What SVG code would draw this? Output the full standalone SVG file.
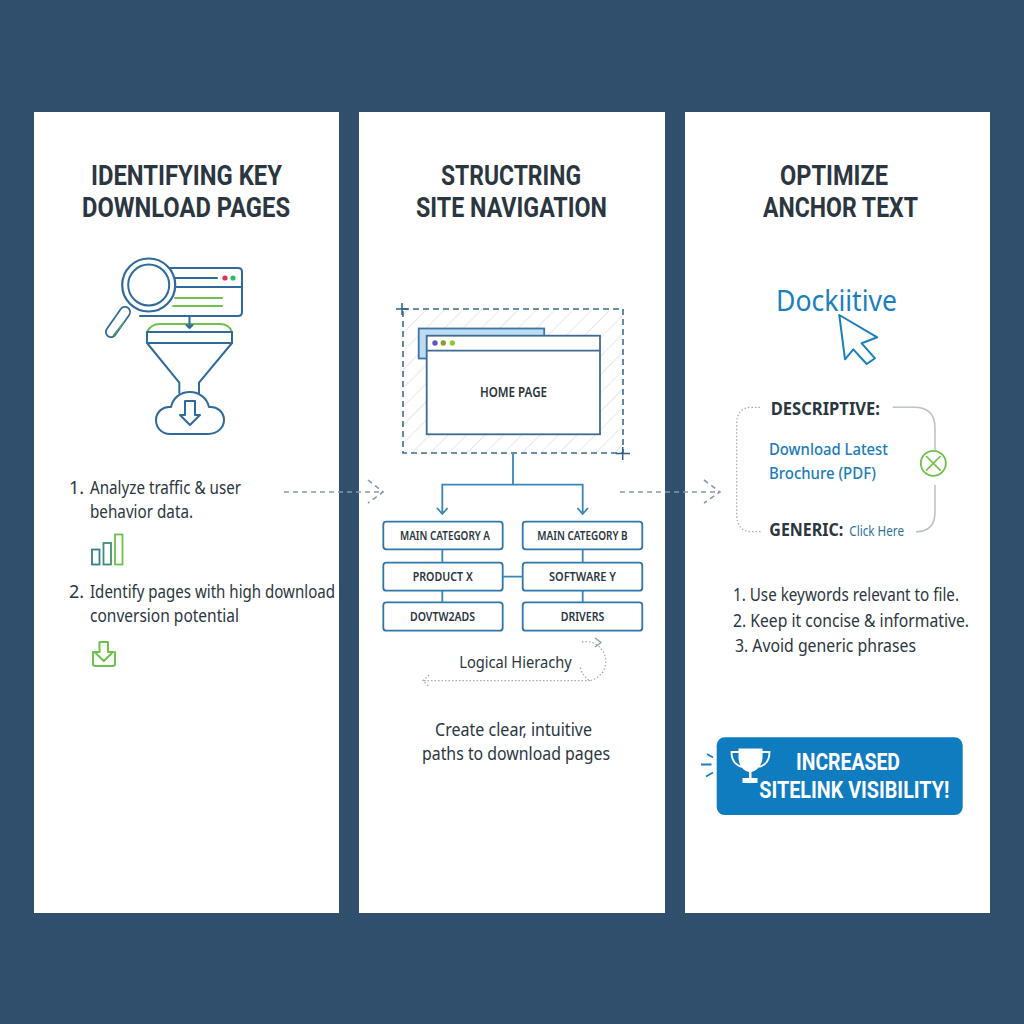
<svg xmlns="http://www.w3.org/2000/svg" width="1024" height="1024" viewBox="0 0 1024 1024">
<style>
text{font-family:"Noto Sans","Open Sans","Liberation Sans",sans-serif;fill:#2b3640}
.h{font-family:Roboto,"Liberation Sans",sans-serif;font-size:27.300px;font-weight:700}
.b{font-size:18px}
.n{font-size:13px;font-weight:600}
.d{font-size:18px;font-weight:700}
.l{fill:#1a7cb8;font-size:17px;font-weight:500}
.w{font-family:Roboto,"Liberation Sans",sans-serif;font-size:23px;font-weight:700;fill:#fff}
.ic{fill:none;stroke:#2f6a9c;stroke-width:2;stroke-linejoin:round;stroke-linecap:round}
.gr{fill:none;stroke:#6cc24a;stroke-width:2;stroke-linecap:round;stroke-linejoin:round}
.box{fill:#fff;stroke:#2f77a8;stroke-width:1.8}
.con{fill:none;stroke:#3a86b5;stroke-width:1.8}
.dash{fill:none;stroke:#8a99a8;stroke-width:1.6;stroke-dasharray:5 4}
.dot{fill:none;stroke:#a3adb8;stroke-width:1.3;stroke-dasharray:1.5 2}
</style>
<defs>
<pattern id="hatch" width="13" height="13" patternUnits="userSpaceOnUse" patternTransform="rotate(45)">
<rect width="13" height="13" fill="#fff"/><line x1="0" y1="0" x2="0" y2="13" stroke="#d9dde0" stroke-width="1.300"/>
</pattern>
</defs>
<rect width="1024" height="1024" fill="#2f4f6d"/>

<g id="panel-1">
<rect x="34" y="112" width="305" height="801" fill="#fff"/>
<text class="h" x="91" y="184.500" textLength="191" lengthAdjust="spacingAndGlyphs">IDENTIFYING KEY</text>
<text class="h" x="82" y="216.500" textLength="208" lengthAdjust="spacingAndGlyphs">DOWNLOAD PAGES</text>
<g id="icon-search">
<line x1="125" y1="312" x2="111" y2="332" stroke="#2f6a9c" stroke-width="12" stroke-linecap="round"/>
<line x1="125" y1="312" x2="111" y2="332" stroke="#fff" stroke-width="8.500" stroke-linecap="round"/>
<path d="M124 322L113 336" stroke="#5aa06a" stroke-width="1.600" fill="none"/>
<path class="ic" d="M170 268H238Q242 268 242 272V312Q242 316 238 316H140" fill="#fff"/>
<path class="ic" d="M170 287H242M175 278H217"/>
<circle cx="225" cy="278" r="2.600" fill="#e0305a"/><circle cx="233" cy="278" r="2.600" fill="#22c068"/>
<path class="gr" d="M175 298H222M173 306H222"/>
<circle cx="148.700" cy="285" r="26.500" fill="#fff" stroke="#2f6a9c" stroke-width="2.200"/>
<circle cx="148.700" cy="285" r="20.500" fill="#fff" stroke="#2f6a9c" stroke-width="2"/>
</g>
<g id="icon-funnel">
<path class="gr" d="M147 332Q151 324 160 324H220Q229 324 232 332"/>
<path class="ic" d="M189.500 316V328M186.500 325L189.500 328L192.500 325"/>
<rect class="ic" x="147" y="332" width="85" height="11"/>
<path class="ic" d="M147 343L179.300 382.700V393M232 343L199 382.700V393"/>
<path class="ic" d="M170 434H208C218 434 224 427 224 420C224 412 217 406 209 407C207 398 199 392 190 392C180 392 173 398 171 407C163 406 156 412 156 420C156 427 161 434 170 434Z"/>
<path class="ic" d="M185 401H195V415H200L190 425L180 415H185Z"/>
</g>
<text class="b" x="69" y="494">1.</text>
<text class="b" x="90" y="494" textLength="151" lengthAdjust="spacingAndGlyphs">Analyze traffic &amp; user</text>
<text class="b" x="90" y="518" textLength="103" lengthAdjust="spacingAndGlyphs">behavior data.</text>
<g id="icon-bars" fill="none" stroke-width="1.8">
<rect x="92" y="549.500" width="7.500" height="15" stroke="#2f7f95"/>
<rect x="103.500" y="543" width="7.500" height="21.500" stroke="#3d8f70"/>
<rect x="115" y="534.500" width="7.500" height="30" stroke="#6cc24a"/>
</g>
<text class="b" x="69" y="598">2.</text>
<text class="b" x="90" y="598" textLength="245" lengthAdjust="spacingAndGlyphs">Identify pages with high download</text>
<text class="b" x="90" y="622" textLength="149" lengthAdjust="spacingAndGlyphs">conversion potential</text>
<path id="icon-download" class="gr" d="M93 652V664Q93 666 95 666H113Q115 666 115 664V652M99.500 642H108V652H113L103.800 661L94.500 652H99.500Z"/>
</g>

<g id="panel-2">
<rect x="359" y="112" width="306" height="801" fill="#fff"/>
<text class="h" x="441" y="184.500" textLength="140" lengthAdjust="spacingAndGlyphs">STRUCTRING</text>
<text class="h" x="416" y="216.500" textLength="191" lengthAdjust="spacingAndGlyphs">SITE NAVIGATION</text>
<g id="home-page">
<rect x="403" y="309" width="220" height="144" fill="url(#hatch)" stroke="#3f6b90" stroke-width="1.600" stroke-dasharray="6 4"/>
<path d="M396 309H408M402 303V315M616 453.500H630M622.700 447V460" stroke="#2f5f88" stroke-width="1.500" fill="none"/>
<rect x="418.700" y="328.500" width="125.500" height="30" fill="#bcdcf4" stroke="#3f769f" stroke-width="1.800"/>
<rect x="426.700" y="335.700" width="173.300" height="98.600" fill="#fff" stroke="#3f6b90" stroke-width="1.800"/>
<line x1="426.700" y1="350.700" x2="600" y2="350.700" stroke="#3f6b90" stroke-width="1.800"/>
<circle cx="435" cy="343" r="2.700" fill="#5a55c8"/><circle cx="443.300" cy="343" r="2.700" fill="#8f9a30"/><circle cx="452.300" cy="343" r="2.700" fill="#8cc832"/>
<text x="480" y="397" font-size="15" font-weight="600" textLength="67" lengthAdjust="spacingAndGlyphs">HOME PAGE</text>
</g>
<g id="cat-a"><rect class="box" x="383.300" y="521.700" width="119.400" height="27.600" rx="3"/><text class="n" x="400" y="540" textLength="90" lengthAdjust="spacingAndGlyphs">MAIN CATEGORY A</text></g>
<g id="cat-b"><rect class="box" x="522.700" y="521.700" width="119.600" height="27.600" rx="3"/><text class="n" x="537.300" y="540" textLength="90.400" lengthAdjust="spacingAndGlyphs">MAIN CATEGORY B</text></g>
<g id="product-x"><rect class="box" x="383.300" y="562.700" width="119.400" height="28" rx="3"/><text class="n" x="412.700" y="581.300" textLength="60" lengthAdjust="spacingAndGlyphs">PRODUCT X</text></g>
<g id="software-y"><rect class="box" x="522.700" y="562.700" width="119.600" height="28" rx="3"/><text class="n" x="549" y="581.300" textLength="67" lengthAdjust="spacingAndGlyphs">SOFTWARE Y</text></g>
<g id="downloads"><rect class="box" x="383.300" y="602.300" width="119.400" height="28.400" rx="3"/><text class="n" x="410" y="621.300" textLength="65" lengthAdjust="spacingAndGlyphs">DOVTW2ADS</text></g>
<g id="drivers"><rect class="box" x="522.700" y="602.300" width="119.600" height="28.400" rx="3"/><text class="n" x="560.700" y="621.300" textLength="43.600" lengthAdjust="spacingAndGlyphs">DRIVERS</text></g>
<text x="459.300" y="668" font-size="17" textLength="112.400" lengthAdjust="spacingAndGlyphs">Logical Hierachy</text>
<text class="b" x="435" y="736" textLength="157" lengthAdjust="spacingAndGlyphs">Create clear, intuitive</text>
<text class="b" x="422" y="760" textLength="188" lengthAdjust="spacingAndGlyphs">paths to download pages</text>
</g>

<g id="panel-3">
<rect x="685" y="112" width="305" height="801" fill="#fff"/>
<text class="h" x="780" y="184.500" textLength="108" lengthAdjust="spacingAndGlyphs">OPTIMIZE</text>
<text class="h" x="763" y="216.500" textLength="155" lengthAdjust="spacingAndGlyphs">ANCHOR TEXT</text>
<text x="776" y="311" font-size="29" style="fill:#1a7fbd" textLength="121" lengthAdjust="spacingAndGlyphs">Dockiitive</text>
<path id="icon-cursor" d="M839.300 315L877.300 337.300L861.700 343.300L875 358.300L866.700 364L853.300 349.300L845 359.300Z" fill="#fff" stroke="#1a7fbd" stroke-width="2" stroke-linejoin="round"/>
<g id="frame">
<path class="dot" d="M760 407.300H752Q736.700 407.300 736.700 424V514Q736.700 531.700 752 531.700H761"/>
<path d="M892.700 407.300H914Q935 407.300 935 428V450M935 485V512Q935 531.700 916 531.700" fill="none" stroke="#bcc3ca" stroke-width="1.600"/>
<circle cx="933.300" cy="463.300" r="12.500" fill="#fff" stroke="#6cc24a" stroke-width="1.800"/>
<path d="M926 456L940.600 470.600M940.600 456L926 470.600" stroke="#6cc24a" stroke-width="1.600"/>
</g>
<text class="d" x="770.700" y="415" textLength="109.300" lengthAdjust="spacingAndGlyphs">DESCRIPTIVE:</text>
<text class="l" x="769" y="454.500" textLength="119" lengthAdjust="spacingAndGlyphs">Download Latest</text>
<text class="l" x="769" y="478.500" textLength="107" lengthAdjust="spacingAndGlyphs">Brochure (PDF)</text>
<text class="d" x="769.300" y="536" textLength="74" lengthAdjust="spacingAndGlyphs">GENERIC:</text>
<text x="849.300" y="536" font-size="15" style="fill:#2e6f9c" textLength="54.700" lengthAdjust="spacingAndGlyphs">Click Here</text>
<text class="b" x="733" y="601" textLength="226" lengthAdjust="spacingAndGlyphs">1. Use keywords relevant to file.</text>
<text class="b" x="733" y="627" textLength="236" lengthAdjust="spacingAndGlyphs">2. Keep it concise &amp; informative.</text>
<text class="b" x="735" y="652" textLength="181" lengthAdjust="spacingAndGlyphs">3. Avoid generic phrases</text>
<g id="badge">
<path d="M707 754L713 757.500M701 764.500H711.500M706 776.500L713 772.500" stroke="#1a7fbd" stroke-width="1.800" fill="none"/>
<rect x="716.700" y="737.300" width="246" height="77.700" rx="8" fill="#0f7cc0"/>
<g id="trophy">
<path d="M738.500 748.500H762.500V757C762.500 766 756 771 751.500 772V778H757.500V783H742.500V778H749V772C744 771 738.500 766 738.500 757Z" fill="#fff"/>
<path d="M739 752H731.500C731.500 760 735 765 742 767M762 752H769.500C769.500 760 766 765 759 767" fill="none" stroke="#fff" stroke-width="1.800"/>
</g>
<text class="w" x="796" y="770" textLength="104" lengthAdjust="spacingAndGlyphs">INCREASED</text>
<text class="w" x="759.300" y="797.700" textLength="190" lengthAdjust="spacingAndGlyphs">SITELINK VISIBILITY!</text>
</g>
</g>

<g id="connectors">
<path class="con" d="M513 453.500V484.700M442.300 513V484.700H582.700V513M437 508L442.300 514L447.600 508M577.400 508L582.700 514L588 508"/>
<path class="con" d="M442.300 549.300V562.700M582.700 549.300V562.700M442.300 590.700V602.300M582.700 590.700V602.300M502.700 576.700H522.700"/>
<path class="dash" d="M284 492H380M368 480L383 492L368 503"/>
<path class="dash" d="M620 492H716M704 480L720 492L704 503"/>
<path class="dot" d="M590 680.700H423M429 675L423 680.700L429 686.500"/>
<path class="dot" d="M582 642A19 19 0 1 1 590 680.700Q583 677 580 667"/>
<path d="M595 638L601 642.500L595 647" fill="none" stroke="#8a99a8" stroke-width="1.200"/>
</g>
</svg>
